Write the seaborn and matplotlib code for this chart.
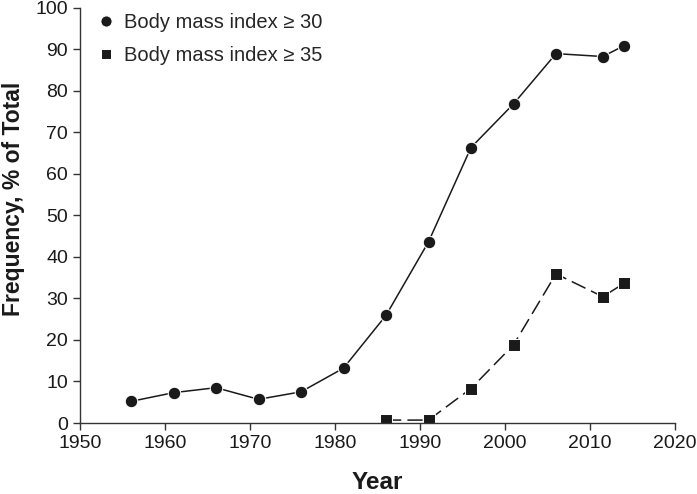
import matplotlib
matplotlib.use("Agg")
import matplotlib.pyplot as plt
import seaborn as sns
import pandas as pd

# Values
years_30 = [1956, 1961, 1966, 1971, 1976, 1981, 1986, 1991, 1996, 2001, 2006, 2011.5, 2014]
bmi_30 = [5.2, 7.3, 8.5, 5.7, 7.5, 13.2, 25.9, 43.6, 66.3, 76.8, 88.9, 88.2, 90.8]

years_35 = [1986, 1991, 1996, 2001, 2006, 2011.5, 2014]
bmi_35 = [0.7, 0.7, 8.3, 18.8, 35.9, 30.4, 33.6]

label_30 = "Body mass index \u2265 30"
label_35 = "Body mass index \u2265 35"

x_ticks = list(range(1950, 2021, 10))
y_ticks = list(range(0, 101, 10))

sns.set_theme(style="ticks")
plt.rcParams["font.family"] = ["Liberation Sans", "DejaVu Sans"]

df30 = pd.DataFrame({"Year": years_30, "Frequency": bmi_30})
df35 = pd.DataFrame({"Year": years_35, "Frequency": bmi_35})

fig, ax = plt.subplots(figsize=(6.97, 4.94), dpi=100)
fig.subplots_adjust(left=80 / 697, right=675 / 697, top=1 - 7.5 / 494, bottom=1 - 423 / 494)

sns.lineplot(data=df30, x="Year", y="Frequency", ax=ax, color="#1a1a1a",
             marker="o", markersize=9, linewidth=1.1, label=label_30)
sns.lineplot(data=df35, x="Year", y="Frequency", ax=ax, color="#1a1a1a",
             marker="s", markersize=8.5, linewidth=1.1, dashes=(10, 4), label=label_35)

ax.set_xlim(1950, 2020)
ax.set_ylim(0, 100)
ax.set_xticks(x_ticks)
ax.set_yticks(y_ticks)
ax.tick_params(axis="both", labelsize=14, length=5, width=1, color="#333333",
               labelcolor="#1a1a1a", direction="out")
for side in ["top", "right"]:
    ax.spines[side].set_visible(False)
for side in ["left", "bottom"]:
    ax.spines[side].set_color("#333333")
    ax.spines[side].set_linewidth(1)

ax.set_xlabel("Year", fontsize=17.5, fontweight="bold", color="#1a1a1a", labelpad=14)
ax.set_ylabel("Frequency, % of Total", fontsize=16.5, fontweight="bold", color="#1a1a1a")
ax.yaxis.set_label_coords(-0.092, 0.54)

leg = ax.legend(loc="upper left", bbox_to_anchor=(0.0, 1.03), frameon=False,
                fontsize=14.5, handlelength=0.8, handletextpad=0.5, labelspacing=0.7,
                markerscale=0.9)
for line in leg.get_lines():
    line.set_linestyle("none")

plt.savefig("out.png", dpi=100)
